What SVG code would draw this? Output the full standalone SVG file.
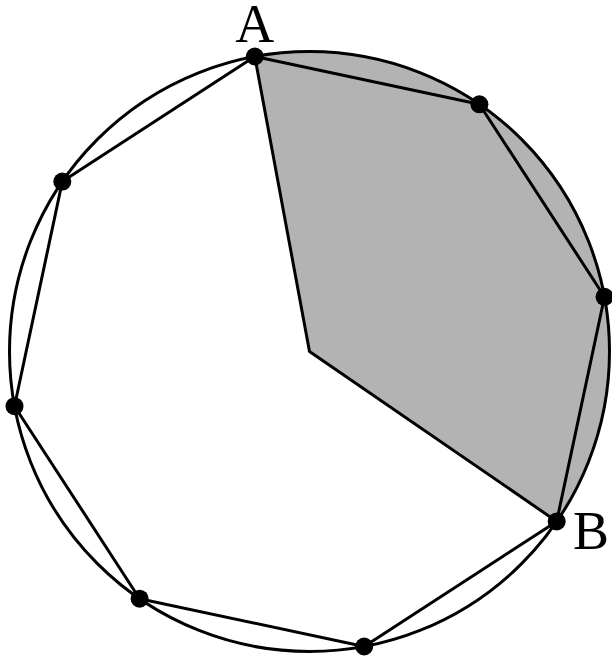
<svg xmlns="http://www.w3.org/2000/svg" width="612" height="662" viewBox="0 0 612 662">
<style>
.ln{fill:none;stroke:#000;stroke-width:3;stroke-linejoin:round;stroke-linecap:round}
.lbl{font-family:"Liberation Serif","Times New Roman",serif;font-size:54px;fill:#000}
.dot{fill:#000}
</style>
<rect width="612" height="662" fill="#fff"/>
<g id="sector">
<path d="M309.5,351.5 L254.8,56.5 A300,300 0 0 1 556.7,521.4 Z" fill="#b3b3b3" stroke="none"/>
</g>
<g id="circle">
<circle cx="309.5" cy="351.5" r="300" class="ln"/>
</g>
<g id="connectors">
<polygon class="ln" points="254.8,56.5 479.4,104.3 604.5,296.8 556.7,521.4 364.2,646.5 139.6,598.7 14.5,406.2 62.3,181.6"/>
<polyline class="ln" points="254.8,56.5 309.5,351.5 556.7,521.4"/>
</g>
<g id="nodeA"><circle class="dot" cx="254.8" cy="56.5" r="9"/><text class="lbl" x="254.7" y="41.7" text-anchor="middle">A</text></g>
<g id="node2"><circle class="dot" cx="479.4" cy="104.3" r="9"/></g>
<g id="node3"><circle class="dot" cx="604.5" cy="296.8" r="9"/></g>
<g id="nodeB"><circle class="dot" cx="556.7" cy="521.4" r="9"/><text class="lbl" x="573" y="549">B</text></g>
<g id="node5"><circle class="dot" cx="364.2" cy="646.5" r="9"/></g>
<g id="node6"><circle class="dot" cx="139.6" cy="598.7" r="9"/></g>
<g id="node7"><circle class="dot" cx="14.5" cy="406.2" r="9"/></g>
<g id="node8"><circle class="dot" cx="62.3" cy="181.6" r="9"/></g>
</svg>
